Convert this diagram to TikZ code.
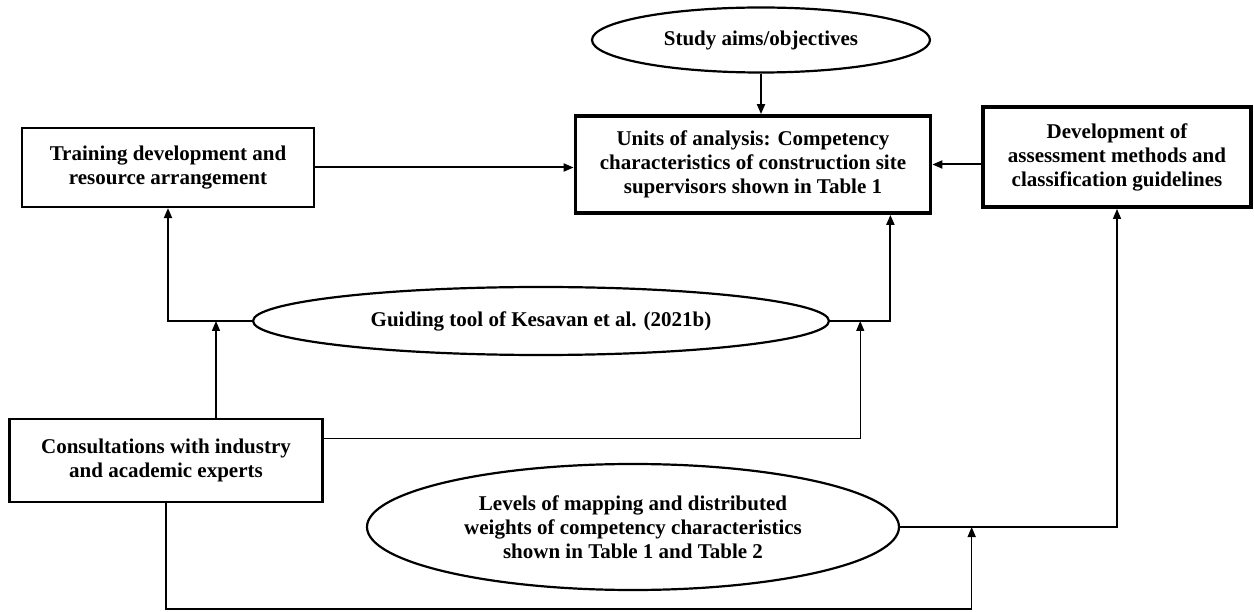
\documentclass[tikz,border=0pt]{standalone}
\usepackage{fontspec}
\setmainfont{Liberation Serif}
\usetikzlibrary{positioning,calc,shapes.geometric,arrows.meta}

\begin{document}
\begin{tikzpicture}[x=1pt,y=-1pt,
    font=\fontsize{21}{24}\selectfont\bfseries,
    box/.style={draw, line width=2.2pt, align=center, inner sep=0pt},
    bigbox/.style={box, line width=3.8pt},
    oval/.style={draw, ellipse, line width=2.2pt, align=center, inner sep=0pt},
    link/.style={line width=2pt, -{Triangle[length=10pt,width=8pt]}},
    thinlink/.style={link, line width=1.4pt}]
    \useasboundingbox (0,0) rectangle (1254,612);
    \node[oval, minimum width=338, minimum height=65] (aims) at (761,40) {Study aims/objectives};
    \node[bigbox, minimum width=355, minimum height=97] (units) at (753,164.5) {Units of analysis: Competency\\characteristics of construction site\\supervisors shown in Table 1};
    \node[box, minimum width=292, minimum height=79] (training) at (168,167.5) {Training development and\\resource arrangement};
    \node[bigbox, minimum width=268, minimum height=100] (dev) at (1117,157) {Development of\\assessment methods and\\classification guidelines};
    \node[oval, minimum width=576, minimum height=68] (guide) at (541,321) {Guiding tool of Kesavan et al. (2021b)};
    \node[box, minimum width=313, minimum height=83] (consult) at (166,460.5) {Consultations with industry\\and academic experts};
    \node[oval, minimum width=532, minimum height=126] (levels) at (633,527) {Levels of mapping and distributed\\weights of competency characteristics\\shown in Table 1 and Table 2};

    % joints on the lines
    \coordinate (ujoin) at ([xshift=-42pt]units.south east);
    \coordinate (gjoin) at ($(guide.east)!0.5!(ujoin |- guide.east)$);
    \coordinate (ljoin) at ($(levels.east)!0.33!(levels.east -| dev.south)$);
    \coordinate (ctop) at ([xshift=50pt]consult.north);
    \coordinate (cright) at ([yshift=22pt]consult.east);

    \draw[link] (aims.south) -- (aims.south |- units.north);
    \draw[link] (training.east) -- (training.east -| units.west);
    \draw[link] (dev.west |- units.east) -- (units.east);
    \draw[link] (guide.west) -| (training.south);
    \draw[link] (guide.east) -| (ujoin);
    \draw[thinlink] (ctop) -- (ctop |- guide.west);
    \draw[thinlink] (cright) -| (gjoin);
    \draw[thinlink] (consult.south) -- ++(0,106) -| (ljoin);
    \draw[thinlink] (levels.east) -| (dev.south);
\end{tikzpicture}
\end{document}
